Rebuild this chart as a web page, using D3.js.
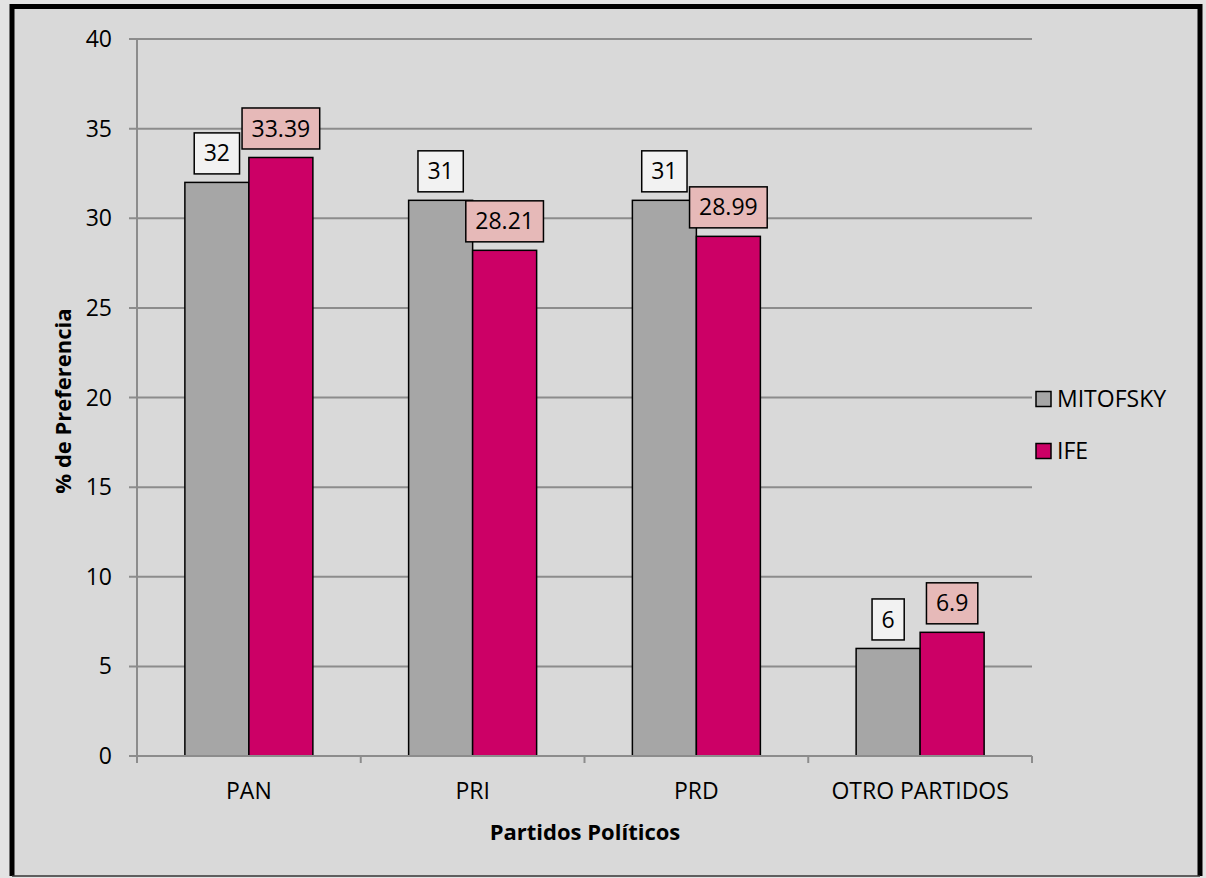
<!DOCTYPE html>
<html>
<head>
<meta charset="utf-8">
<script src="https://cdn.jsdelivr.net/npm/d3@7"></script>
<style>
  body { margin: 0; background: #e3e3e3; }
  svg { display: block; font-family: 'Open Sans', sans-serif; }
</style>
</head>
<body>
<div id="chart"></div>
<script>
// chart data
const categories = ['PAN', 'PRI', 'PRD', 'OTRO PARTIDOS']
const seriesNames = ['MITOFSKY', 'IFE']
const mitofsky = [32, 31, 31, 6]
const ife = [33.39, 28.21, 28.99, 6.9]
const yTicks = [0, 5, 10, 15, 20, 25, 30, 35, 40]

const colors = ['#a6a6a6', '#cc0066']
const labelFills = ['#f2f2f2', '#e6b9b8']

const width = 1206
const height = 878
const plot = { left: 137, right: 1032, top: 39, bottom: 756 }

const svg = d3.select('#chart').append('svg')
  .attr('width', width)
  .attr('height', height)

// chart area with frame
svg.append('rect')
  .attr('x', 12).attr('y', 6.5)
  .attr('width', 1188).attr('height', 869)
  .attr('fill', '#d9d9d9')
svg.append('path')
  .attr('d', 'M12,876 L12,6.5 L1200,6.5 L1200,876')
  .attr('fill', 'none')
  .attr('stroke', '#000')
  .attr('stroke-width', 5)
svg.append('line')
  .attr('x1', 12).attr('x2', 1200)
  .attr('y1', 876).attr('y2', 876)
  .attr('stroke', '#333').attr('stroke-width', 1.5)

const x = d3.scaleBand()
  .domain(categories)
  .range([plot.left, plot.right])

const x1 = d3.scaleBand()
  .domain(seriesNames)
  .range([0, 128])

const y = d3.scaleLinear()
  .domain([0, 40])
  .range([plot.bottom, plot.top])

// gridlines
svg.append('g')
  .selectAll('line')
  .data(yTicks)
  .join('line')
  .attr('x1', plot.left - 8)
  .attr('x2', plot.right)
  .attr('y1', d => y(d))
  .attr('y2', d => y(d))
  .attr('stroke', '#8c8c8c')
  .attr('stroke-width', 2)

// y axis line
svg.append('line')
  .attr('x1', plot.left).attr('x2', plot.left)
  .attr('y1', plot.top).attr('y2', plot.bottom + 7)
  .attr('stroke', '#8c8c8c').attr('stroke-width', 2)

// y tick labels
svg.append('g')
  .selectAll('text')
  .data(yTicks)
  .join('text')
  .attr('x', 112)
  .attr('y', d => y(d))
  .attr('dy', '0.35em')
  .attr('text-anchor', 'end')
  .attr('font-size', 23)
  .attr('fill', '#000')
  .text(d => d)

// x axis category ticks
const catEdges = categories.map(c => x(c)).concat([plot.right])
svg.append('g')
  .selectAll('line')
  .data(catEdges)
  .join('line')
  .attr('x1', d => d).attr('x2', d => d)
  .attr('y1', plot.bottom).attr('y2', plot.bottom + 7)
  .attr('stroke', '#8c8c8c').attr('stroke-width', 2)

// x tick labels
svg.append('g')
  .selectAll('text')
  .data(categories)
  .join('text')
  .attr('x', d => x(d) + x.bandwidth() / 2)
  .attr('y', 791)
  .attr('dy', '0.35em')
  .attr('text-anchor', 'middle')
  .attr('font-size', 23)
  .text(d => d)

// bars
const rows = categories.map((c, i) => ({
  cat: c,
  values: [mitofsky[i], ife[i]]
}))

const groups = svg.append('g')
  .selectAll('g')
  .data(rows)
  .join('g')
  .attr('transform', d => `translate(${x(d.cat) + x.bandwidth() / 2 - 64},0)`)

groups.selectAll('rect')
  .data(d => d.values.map((v, k) => ({ v, k })))
  .join('rect')
  .attr('x', d => x1(seriesNames[d.k]))
  .attr('y', d => y(d.v))
  .attr('width', x1.bandwidth())
  .attr('height', d => plot.bottom - y(d.v))
  .attr('fill', d => colors[d.k])
  .attr('stroke', '#000')
  .attr('stroke-width', 1.5)

// redraw baseline over bars
svg.append('line')
  .attr('x1', plot.left).attr('x2', plot.right)
  .attr('y1', plot.bottom).attr('y2', plot.bottom)
  .attr('stroke', '#8c8c8c').attr('stroke-width', 2)

// data labels with boxes
const labels = groups.selectAll('g.label')
  .data(d => d.values.map((v, k) => ({ v, k })))
  .join('g')
  .attr('class', 'label')

labels.append('text')
  .attr('x', d => x1(seriesNames[d.k]) + x1.bandwidth() / 2)
  .attr('y', d => y(d.v) - 29)
  .attr('dy', '0.35em')
  .attr('text-anchor', 'middle')
  .attr('font-size', 23)
  .text(d => d.v)

labels.each(function (d) {
  const g = d3.select(this)
  const bb = g.select('text').node().getBBox()
  const w = bb.width + 19
  const cx = x1(seriesNames[d.k]) + x1.bandwidth() / 2
  const cy = y(d.v) - 29
  g.insert('rect', 'text')
    .attr('x', cx - w / 2)
    .attr('y', cy - 20.5)
    .attr('width', w)
    .attr('height', 41)
    .attr('fill', labelFills[d.k])
    .attr('stroke', '#000')
    .attr('stroke-width', 1.5)
})

// legend
const legend = svg.append('g')
  .selectAll('g')
  .data(seriesNames)
  .join('g')
  .attr('transform', (d, i) => `translate(1036,${399 + i * 52})`)

legend.append('rect')
  .attr('x', 0).attr('y', -7.5)
  .attr('width', 15).attr('height', 15)
  .attr('fill', (d, i) => colors[i])
  .attr('stroke', '#000')
  .attr('stroke-width', 1.5)

legend.append('text')
  .attr('x', 21)
  .attr('dy', '0.35em')
  .attr('font-size', 23)
  .text(d => d)

// axis titles
svg.append('text')
  .attr('transform', 'translate(63,401) rotate(-90)')
  .attr('text-anchor', 'middle')
  .attr('dy', '0.35em')
  .attr('font-size', 22)
  .attr('font-weight', 'bold')
  .text('% de Preferencia')

svg.append('text')
  .attr('x', 585)
  .attr('y', 832)
  .attr('dy', '0.35em')
  .attr('text-anchor', 'middle')
  .attr('font-size', 22)
  .attr('font-weight', 'bold')
  .text('Partidos Políticos')
</script>
</body>
</html>
